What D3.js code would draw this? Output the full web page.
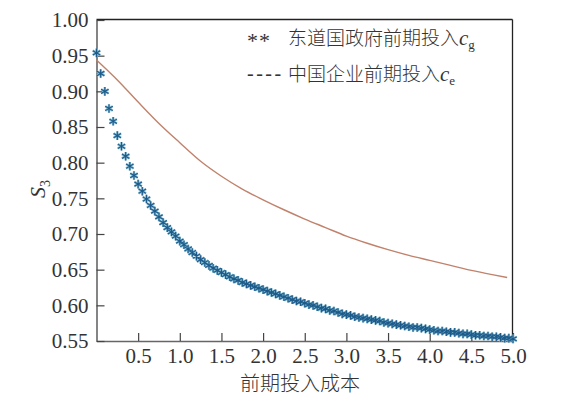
<!DOCTYPE html>
<html>
<head>
<meta charset="utf-8">
<script src="https://cdn.jsdelivr.net/npm/d3@7"></script>
<style>
  body { margin: 0; background: #fff; }
  svg { display: block; }
  .serif { font-family: "Liberation Serif", "DejaVu Serif", serif; }
  .cjk { font-family: "Noto Sans CJK SC", sans-serif; font-weight: 300; }
</style>
</head>
<body>
<svg id="chart" width="574" height="397"></svg>
<script>
// star series: government upfront cost c_g, sampled every 0.05
starX = d3.range(0, 101).map(i => +(i * 0.05).toFixed(2));
starY = [
  0.954, 0.925, 0.900, 0.876, 0.858, 0.838, 0.823, 0.809, 0.795, 0.782,
  0.770, 0.760, 0.749, 0.740, 0.732, 0.724, 0.716, 0.709, 0.703, 0.697,
  0.690, 0.685, 0.679, 0.674, 0.669, 0.664, 0.660, 0.656, 0.652, 0.649,
  0.646, 0.643, 0.640, 0.637, 0.635, 0.632, 0.630, 0.628, 0.626, 0.624,
  0.622, 0.620, 0.618, 0.616, 0.614, 0.612, 0.610, 0.608, 0.606, 0.605,
  0.603, 0.601, 0.600, 0.598, 0.596, 0.595, 0.593, 0.592, 0.590, 0.588,
  0.587, 0.586, 0.584, 0.583, 0.582, 0.581, 0.580, 0.579, 0.578, 0.576,
  0.575, 0.574, 0.573, 0.572, 0.571, 0.570, 0.569, 0.569, 0.568, 0.567,
  0.566, 0.565, 0.564, 0.564, 0.563, 0.562, 0.562, 0.561, 0.560, 0.560,
  0.559, 0.558, 0.558, 0.557, 0.557, 0.556, 0.556, 0.555, 0.554, 0.554,
  0.553
];

// line series: enterprise upfront cost c_e
lineX = [0, 0.25, 0.5, 0.75, 1.0, 1.25, 1.5, 1.75, 2.0, 2.25, 2.5, 2.75,
         3.0, 3.25, 3.5, 3.75, 4.0, 4.25, 4.5, 4.75, 4.93];
lineY = [0.944, 0.916, 0.885, 0.855, 0.828, 0.802, 0.781, 0.763, 0.748, 0.734,
         0.721, 0.709, 0.697, 0.687, 0.678, 0.670, 0.663, 0.656, 0.649, 0.643, 0.639];

xTicks = [0.5, 1.0, 1.5, 2.0, 2.5, 3.0, 3.5, 4.0, 4.5, 5.0];
yTicks = [0.55, 0.60, 0.65, 0.70, 0.75, 0.80, 0.85, 0.90, 0.95, 1.00];

let svg = d3.select("#chart");
let plotLeft = 96.5, plotRight = 512.5, plotTop = 19.5, plotBottom = 341;

let x = d3.scaleLinear().domain([0, 5]).range([plotLeft, 513]);
let y = d3.scaleLinear().domain([0.55, 1.00]).range([plotBottom, 20]);

// frame: top and right in black
svg.append("line").attr("x1", plotLeft).attr("x2", plotRight).attr("y1", plotTop).attr("y2", plotTop)
   .attr("stroke", "#222").attr("stroke-width", 1.3);
svg.append("line").attr("x1", plotRight).attr("x2", plotRight).attr("y1", plotTop).attr("y2", plotBottom)
   .attr("stroke", "#222").attr("stroke-width", 1.3);

// bottom axis, ticks pointing inward
let xAxis = svg.append("g").attr("transform", "translate(0," + plotBottom + ")")
    .call(d3.axisBottom(x).tickValues(xTicks).tickSizeInner(-8).tickSizeOuter(0)
          .tickPadding(7).tickFormat(d3.format(".1f")));
xAxis.attr("font-family", null).attr("font-size", null);
xAxis.select(".domain").attr("stroke", "#666").attr("stroke-width", 1.6);
xAxis.selectAll(".tick line").attr("stroke", "#444").attr("stroke-width", 1.2);
xAxis.selectAll(".tick text").attr("class", "serif").style("font-size", "21px")
     .attr("fill", "#333");

// left axis
let yAxis = svg.append("g").attr("transform", "translate(" + plotLeft + ",0)")
    .call(d3.axisLeft(y).tickValues(yTicks).tickSizeInner(-8).tickSizeOuter(0)
          .tickPadding(8).tickFormat(d3.format(".2f")));
yAxis.attr("font-family", null).attr("font-size", null);
yAxis.select(".domain").attr("stroke", "#666").attr("stroke-width", 1.6);
yAxis.selectAll(".tick line").attr("stroke", "#444").attr("stroke-width", 1.2);
yAxis.selectAll(".tick text").attr("class", "serif").style("font-size", "21px")
     .attr("fill", "#333");

// line
let lineData = lineX.map((d, i) => [d, lineY[i]]);
svg.append("path").datum(lineData)
   .attr("d", d3.line().x(d => x(d[0])).y(d => y(d[1])).curve(d3.curveMonotoneX))
   .attr("fill", "none").attr("stroke", "#c0826c").attr("stroke-width", 1.4);

// stars
let star = d3.symbol().type(d3.symbolAsterisk).size(52);
let starData = starX.map((d, i) => [d, starY[i]]);
let stars = svg.append("g");
stars.selectAll("path.halo").data(starData).enter().append("path")
   .attr("class", "halo")
   .attr("transform", d => "translate(" + x(d[0]) + "," + y(d[1]) + ")")
   .attr("d", star).attr("fill", "none").attr("stroke", "#82bad0").attr("stroke-width", 2.4);
stars.selectAll("path.core").data(starData).enter().append("path")
   .attr("class", "core")
   .attr("transform", d => "translate(" + x(d[0]) + "," + y(d[1]) + ")")
   .attr("d", star).attr("fill", "none").attr("stroke", "#1d5a8a").attr("stroke-width", 1.1);

// legend
let leg = svg.append("g").attr("fill", "#333");
leg.append("text").attr("class", "serif").attr("x", 247).attr("y", 48)
   .style("font-size", "22px").attr("letter-spacing", 1).text("**");
let t1 = leg.append("text").attr("x", 288).attr("y", 45).style("font-size", "19px");
t1.append("tspan").attr("class", "cjk").text("东道国政府前期投入");
t1.append("tspan").attr("class", "serif").attr("font-style", "italic")
  .style("font-size", "21px").text("c");
t1.append("tspan").attr("class", "serif").style("font-size", "13px")
  .attr("dy", 4).text("g");

leg.append("text").attr("class", "serif").attr("x", 247).attr("y", 80)
   .style("font-size", "20px").attr("letter-spacing", 2.5).text("----");
let t2 = leg.append("text").attr("x", 288).attr("y", 81).style("font-size", "19px");
t2.append("tspan").attr("class", "cjk").text("中国企业前期投入");
t2.append("tspan").attr("class", "serif").attr("font-style", "italic")
  .style("font-size", "21px").text("c");
t2.append("tspan").attr("class", "serif").style("font-size", "13px")
  .attr("dy", 4).text("e");

// axis titles
svg.append("text").attr("class", "cjk").attr("x", 300).attr("y", 391).attr("text-anchor", "middle")
   .style("font-size", "20px").attr("fill", "#333")
   .text("前期投入成本");

let yt = svg.append("text").attr("class", "serif").attr("transform", "translate(45,198) rotate(-90)")
   .attr("fill", "#333");
yt.append("tspan").attr("font-style", "italic").style("font-size", "22px").text("S");
yt.append("tspan").style("font-size", "14px").attr("dy", 5).text("3");
</script>
</body>
</html>
